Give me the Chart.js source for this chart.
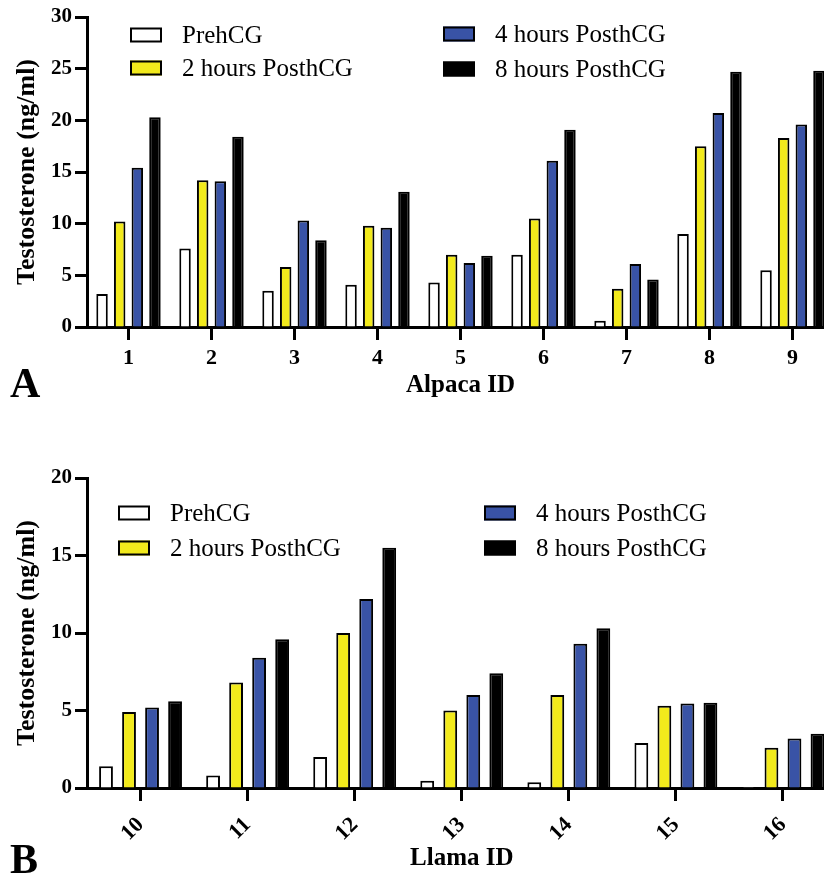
<!DOCTYPE html>
<html>
<head>
<meta charset="utf-8">
<script src="https://cdn.jsdelivr.net/npm/chart.js@4.4.1/dist/chart.umd.min.js"></script>
<style>
  html, body { margin: 0; padding: 0; background: #fff; overflow: hidden; width: 824px; height: 876px; }
  .wrap { position: absolute; left: 0; width: 840px; }
  #w1 { top: 0; height: 420px; }
  #w2 { top: 440px; height: 436px; }
  canvas { display: block; }
</style>
</head>
<body>
<div class="wrap" id="w1"><canvas id="c1" width="840" height="420"></canvas></div>
<div class="wrap" id="w2"><canvas id="c2" width="840" height="436"></canvas></div>
<script>
const seriesNames = ['PrehCG', '2 hours PosthCG', '4 hours PosthCG', '8 hours PosthCG'];

const alpacaIds = ['1', '2', '3', '4', '5', '6', '7', '8', '9'];
const alpacaPre = [3.2, 7.6, 3.5, 4.1, 4.3, 7.0, 0.6, 9.0, 5.5];
const alpaca2h  = [10.2, 14.2, 5.8, 9.8, 7.0, 10.5, 3.7, 17.5, 18.3];
const alpaca4h  = [15.4, 14.1, 10.3, 9.6, 6.2, 16.1, 6.1, 20.7, 19.6];
const alpaca8h  = [20.3, 18.4, 8.4, 13.1, 6.9, 19.1, 4.6, 24.7, 24.8];
const alpacaYTicks = [0, 5, 10, 15, 20, 25, 30];

const llamaIds = ['10', '11', '12', '13', '14', '15', '16'];
const llamaPre = [1.4, 0.8, 2.0, 0.47, 0.37, 2.9, 0.06];
const llama2h  = [4.9, 6.8, 10.0, 5.0, 6.0, 5.3, 2.6];
const llama4h  = [5.2, 8.4, 12.2, 6.0, 9.3, 5.45, 3.2];
const llama8h  = [5.6, 9.6, 15.5, 7.4, 10.3, 5.5, 3.5];
const llamaYTicks = [0, 5, 10, 15, 20];

const fills = ['#ffffff', '#f2ea1c', '#3953a6', '#000000'];
const SERIF = "'Liberation Serif', 'Times New Roman', serif";

function makeDatasets(arrs, catPct, barPct) {
  return arrs.map((d, i) => ({
    label: seriesNames[i],
    data: d,
    backgroundColor: fills[i],
    borderColor: '#000',
    borderWidth: 2,
    categoryPercentage: catPct,
    barPercentage: barPct
  }));
}

const legendPlugin = {
  id: 'customLegend',
  afterDraw(chart, args, opts) {
    const ctx = chart.ctx;
    ctx.save();
    ctx.font = '25px ' + SERIF;
    ctx.textBaseline = 'middle';
    ctx.textAlign = 'left';
    opts.items.forEach(it => {
      const ds = chart.data.datasets[it.ds];
      ctx.fillStyle = ds.backgroundColor;
      ctx.fillRect(it.x, it.y - 7.5, 32, 15);
      ctx.lineWidth = 2;
      ctx.strokeStyle = '#000';
      ctx.strokeRect(it.x + 1, it.y - 6.5, 30, 13);
      ctx.fillStyle = '#000';
      ctx.fillText(ds.label, it.x + 52, it.y + 1);
    });
    ctx.restore();
  }
};

const letterPlugin = {
  id: 'panelLetter',
  afterDraw(chart, args, opts) {
    const ctx = chart.ctx;
    ctx.save();
    ctx.font = 'bold 42px ' + SERIF;
    ctx.textBaseline = 'alphabetic';
    ctx.textAlign = 'left';
    ctx.fillStyle = '#000';
    ctx.fillText(opts.text, opts.x, opts.y);
    ctx.restore();
  }
};

function makeChart(canvasId, cfg) {
  return new Chart(document.getElementById(canvasId), {
    type: 'bar',
    data: { labels: cfg.labels, datasets: makeDatasets(cfg.series, cfg.catPct, cfg.barPct) },
    options: {
      responsive: false,
      animation: false,
      devicePixelRatio: 1,
      layout: { padding: { top: cfg.padTop, left: 0, right: cfg.padRight, bottom: 0 } },
      plugins: {
        legend: { display: false },
        tooltip: { enabled: false },
        customLegend: { items: cfg.legend },
        panelLetter: cfg.letter
      },
      scales: {
        x: {
          type: 'category',
          afterFit: s => { s.height = cfg.xHeight; },
          border: { display: true, width: 3, color: '#000' },
          grid: { display: true, offset: false, drawOnChartArea: false, drawTicks: true, tickLength: 13, tickWidth: 3, tickColor: '#000', color: '#000' },
          ticks: {
            color: '#000',
            font: { family: SERIF, size: 22, weight: 'bold' },
            padding: cfg.xTickPad,
            maxRotation: cfg.rot,
            minRotation: cfg.rot,
            autoSkip: false
          },
          title: {
            display: true,
            text: cfg.xTitle,
            color: '#000',
            font: { family: SERIF, size: 25, weight: 'bold', lineHeight: 1 },
            padding: { top: 0, bottom: cfg.xTitlePad }
          }
        },
        y: {
          min: 0,
          max: cfg.yTicks[cfg.yTicks.length - 1],
          afterFit: s => { s.width = 87; },
          afterBuildTicks: s => { s.ticks = cfg.yTicks.map(v => ({ value: v })); },
          border: { display: true, width: 3, color: '#000' },
          grid: { display: true, drawOnChartArea: false, drawTicks: true, tickLength: 12, tickWidth: 3, tickColor: '#000', color: '#000' },
          ticks: {
            color: '#000',
            font: { family: SERIF, size: 21, weight: 'bold' },
            padding: 3
          },
          title: {
            display: true,
            text: 'Testosterone (ng/ml)',
            color: '#000',
            font: { family: SERIF, size: 26, weight: 'bold', lineHeight: 1 },
            padding: { top: 14, bottom: 0 }
          }
        }
      }
    },
    plugins: [legendPlugin, letterPlugin]
  });
}

makeChart('c1', {
  labels: alpacaIds,
  series: [alpacaPre, alpaca2h, alpaca4h, alpaca8h],
  catPct: 0.85, barPct: 0.65,
  padTop: 17, padRight: 6,
  xHeight: 93, xTickPad: 5, rot: 0,
  xTitle: 'Alpaca ID', xTitlePad: 22,
  yTicks: alpacaYTicks,
  legend: [
    { ds: 0, x: 130, y: 35 },
    { ds: 1, x: 130, y: 68 },
    { ds: 2, x: 443, y: 34 },
    { ds: 3, x: 443, y: 69 }
  ],
  letter: { text: 'A', x: 10, y: 397 }
});

makeChart('c2', {
  labels: llamaIds,
  series: [llamaPre, llama2h, llama4h, llama8h],
  catPct: 0.86, barPct: 0.6,
  padTop: 38, padRight: 3.5,
  xHeight: 88, xTickPad: 11, rot: 45,
  xTitle: 'Llama ID', xTitlePad: 5,
  yTicks: llamaYTicks,
  legend: [
    { ds: 0, x: 118, y: 73 },
    { ds: 1, x: 118, y: 108 },
    { ds: 2, x: 484, y: 73 },
    { ds: 3, x: 484, y: 108 }
  ],
  letter: { text: 'B', x: 10, y: 433 }
});
</script>
</body>
</html>
